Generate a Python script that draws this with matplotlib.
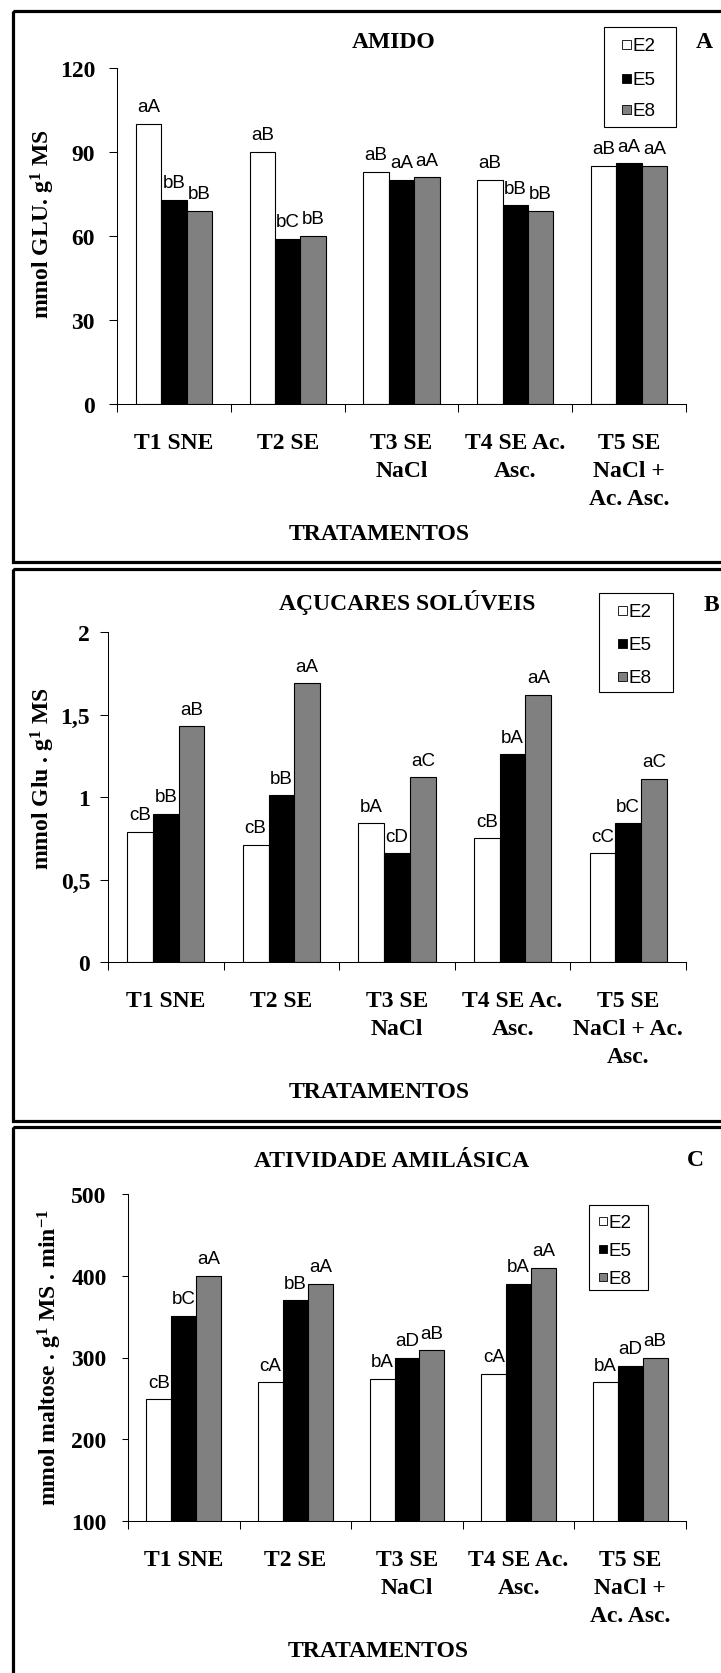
import numpy as np
import matplotlib
matplotlib.use("Agg")
import matplotlib.pyplot as plt
from matplotlib.patches import Rectangle

plt.rcParams["font.family"] = ["Liberation Serif", "DejaVu Serif"]
plt.rcParams["font.weight"] = "bold"
plt.rcParams["mathtext.fontset"] = "custom"
plt.rcParams["mathtext.rm"] = "Liberation Serif:bold"
plt.rcParams["mathtext.bf"] = "Liberation Serif:bold"
plt.rcParams["mathtext.default"] = "rm"

# tratamentos
cats_a = ["T1 SNE", "T2 SE", "T3 SE\nNaCl", "T4 SE Ac.\nAsc.", "T5 SE\nNaCl +\nAc. Asc."]
cats_b = ["T1 SNE", "T2 SE", "T3 SE\nNaCl", "T4 SE Ac.\nAsc.", "T5 SE\nNaCl + Ac.\nAsc."]
series = ["E2", "E5", "E8"]
cores = ["white", "black", "#808080"]

# A - amido (mmol GLU. g-1 MS)
amido_e2 = [100, 90, 83, 80, 85]
amido_e5 = [73, 59, 80, 71, 86]
amido_e8 = [69, 60, 81, 69, 85]
amido_lab_e2 = ["aA", "aB", "aB", "aB", "aB"]
amido_lab_e5 = ["bB", "bC", "aA", "bB", "aA"]
amido_lab_e8 = ["bB", "bB", "aA", "bB", "aA"]

# B - acucares soluveis
acucar_e2 = [0.79, 0.71, 0.84, 0.75, 0.66]
acucar_e5 = [0.90, 1.01, 0.66, 1.26, 0.84]
acucar_e8 = [1.43, 1.69, 1.12, 1.62, 1.11]
acucar_lab_e2 = ["cB", "cB", "bA", "cB", "cC"]
acucar_lab_e5 = ["bB", "bB", "cD", "bA", "bC"]
acucar_lab_e8 = ["aB", "aA", "aC", "aA", "aC"]

# C - atividade amilasica
amil_e2 = [249, 270, 274, 280, 270]
amil_e5 = [351, 370, 300, 390, 290]
amil_e8 = [400, 390, 309, 410, 300]
amil_lab_e2 = ["cB", "cA", "bA", "cA", "bA"]
amil_lab_e5 = ["bC", "bB", "aD", "bA", "aD"]
amil_lab_e8 = ["aA", "aA", "aB", "aA", "aB"]

W, H = 721, 1674
FS = 17
fig = plt.figure(figsize=(W / 100, H / 100), dpi=100)

# camada de fundo em pixels (molduras, titulos, legendas)
bg = fig.add_axes([0, 0, 1, 1])
bg.set_xlim(0, W)
bg.set_ylim(H, 0)
bg.axis("off")


def painel(box, ylim, yticks, yticklabels, cats, vals, labs, ypad, ticklen):
    l, t, r, b = box
    ax = fig.add_axes([l / W, 1 - b / H, (r - l) / W, (b - t) / H])
    x = np.arange(len(cats))
    w = 0.223
    for i in range(3):
        bars = ax.bar(x + (i - 1) * w, vals[i], w, color=cores[i],
                      edgecolor="black", linewidth=0.8)
        for rect, s in zip(bars, labs[i]):
            ax.annotate(s, (rect.get_x() + rect.get_width() / 2, rect.get_height()),
                        xytext=(0, 9), textcoords="offset points",
                        ha="center", va="baseline", fontsize=13.5,
                        family="Liberation Sans", weight="normal")
    ax.set_xlim(-0.5, len(cats) - 0.5)
    ax.set_ylim(*ylim)
    ax.set_yticks(yticks)
    ax.set_yticklabels(yticklabels)
    ax.set_xticks(x)
    ax.set_xticklabels(cats, linespacing=1.43)
    ax.set_xticks(np.arange(len(cats) + 1) - 0.5, minor=True)
    ax.tick_params(axis="x", which="major", length=0, pad=20, labelsize=FS)
    ax.tick_params(axis="x", which="minor", length=5.8, width=0.75, direction="out")
    ax.tick_params(axis="y", length=ticklen, width=0.75, pad=ypad, labelsize=FS)
    for s in ["top", "right"]:
        ax.spines[s].set_visible(False)
    for s in ["left", "bottom"]:
        ax.spines[s].set_linewidth(0.75)
    ax.patch.set_alpha(0)
    return ax


def legenda(x0, y0, x1, y1, ys, mx, ms=9):
    bg.add_patch(Rectangle((x0, y0), x1 - x0, y1 - y0, facecolor="white",
                           edgecolor="black", linewidth=0.8))
    for yy, nome, cor in zip(ys, series, cores):
        bg.add_patch(Rectangle((mx, yy - ms / 2), ms, ms, facecolor=cor,
                               edgecolor="black", linewidth=0.6))
        bg.text(mx + ms + 1, yy + 6, nome, va="baseline", ha="left", fontsize=13.5,
                family="Liberation Sans", weight="normal")


# molduras
bg.add_patch(Rectangle((13, 12), 730, 563 - 12, fill=False, linewidth=2.3))
bg.add_patch(Rectangle((13, 570), 730, 1122 - 570, fill=False, linewidth=2.3))
bg.add_patch(Rectangle((13, 1128), 730, 560, fill=False, linewidth=2.3))

# A
painel((117, 69, 686, 405), (0, 120), [0, 30, 60, 90, 120],
       ["0", "30", "60", "90", "120"], cats_a,
       [amido_e2, amido_e5, amido_e8],
       [amido_lab_e2, amido_lab_e5, amido_lab_e8], 10, 5.8)
bg.text(394, 48, "AMIDO", ha="center", va="baseline", fontsize=FS)
bg.text(704, 48, "A", ha="center", va="baseline", fontsize=FS)
bg.text(43, 224, "mmol GLU. g$^{1}$ MS", rotation=90, ha="center", va="center", fontsize=FS)
bg.text(379, 540, "TRATAMENTOS", ha="center", va="baseline", fontsize=FS)
legenda(604, 28, 676, 128, [45, 79, 110], 622)

# B
painel((108, 633, 686, 963), (0, 2), [0, 0.5, 1, 1.5, 2],
       ["0", "0,5", "1", "1,5", "2"], cats_b,
       [acucar_e2, acucar_e5, acucar_e8],
       [acucar_lab_e2, acucar_lab_e5, acucar_lab_e8], 7, 5.8)
bg.text(407, 610, "AÇUCARES SOLÚVEIS", ha="center", va="baseline", fontsize=FS)
bg.text(711, 611, "B", ha="center", va="baseline", fontsize=FS)
bg.text(43, 779, "mmol Glu . g$^{1}$ MS", rotation=90, ha="center", va="center", fontsize=FS)
bg.text(379, 1098, "TRATAMENTOS", ha="center", va="baseline", fontsize=FS)
legenda(599, 594, 673, 693, [611, 644, 677], 618)

# C
painel((128, 1195, 686, 1522), (100, 500), [100, 200, 300, 400, 500],
       ["100", "200", "300", "400", "500"], cats_a,
       [amil_e2, amil_e5, amil_e8],
       [amil_lab_e2, amil_lab_e5, amil_lab_e8], 11, 4.3)
bg.text(392, 1167, "ATIVIDADE AMILÁSICA", ha="center", va="baseline", fontsize=FS)
bg.text(695, 1166, "C", ha="center", va="baseline", fontsize=FS)
bg.text(50, 1357, "mmol maltose . g$^{1}$ MS . min$^{-1}$", rotation=90,
        ha="center", va="center", fontsize=FS)
bg.text(378, 1657, "TRATAMENTOS", ha="center", va="baseline", fontsize=FS)
legenda(589, 1206, 648, 1291, [1222, 1250, 1278], 599, ms=8)

fig.savefig("out.png", dpi=100)
